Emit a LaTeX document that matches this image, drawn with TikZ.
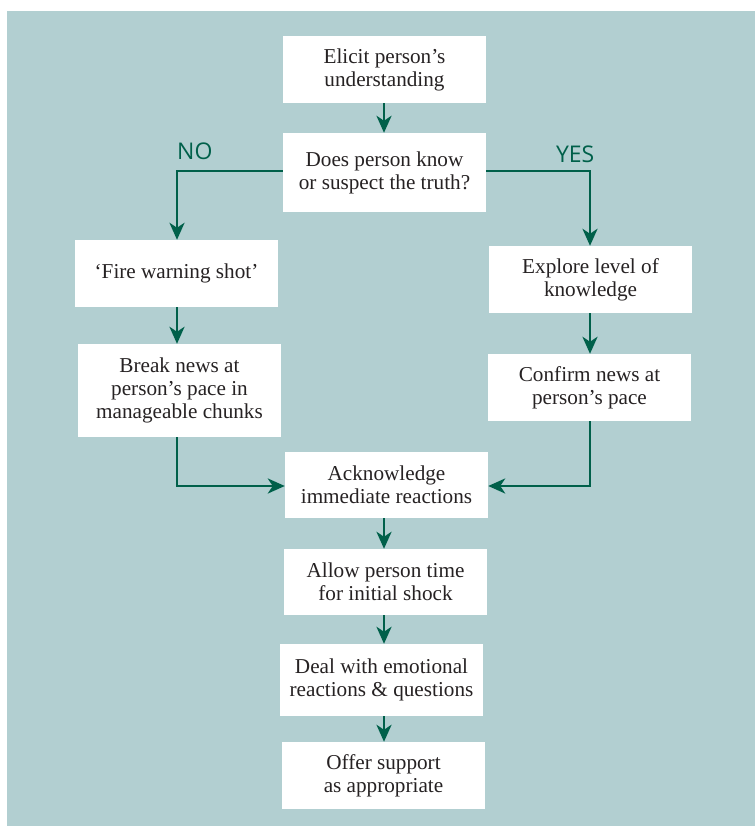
\documentclass[tikz,border=0pt]{standalone}
\usepackage{fontspec}
\setmainfont{Liberation Serif}
\newfontfamily\labelfont{Open Sans}
\usetikzlibrary{arrows.meta}
\definecolor{bgteal}{RGB}{178,207,209}
\definecolor{arrgreen}{RGB}{0,96,74}
\definecolor{txtgray}{RGB}{38,34,35}
\tikzset{
  box/.style={fill=white, draw=none, minimum width=203pt, inner sep=2pt, align=center,
    text=txtgray, font=\fontsize{21.2}{23}\selectfont},
  conn/.style={draw=arrgreen, line width=2.9pt, -{Stealth[length=17pt,width=15pt,inset=5pt]}},
  lbl/.style={text=arrgreen, inner sep=0pt, font=\labelfont\fontsize{23}{26}\selectfont}
}
\begin{document}
\begin{tikzpicture}[x=1pt,y=1pt]
\useasboundingbox (0,0) rectangle (755,-826);
\fill[bgteal] (7,-11) rectangle (755,-826);

\node[box, minimum height=67pt] (b1) at (384.5,-69.5) {Elicit person’s\\understanding};
\node[box, minimum height=79pt] (b2) at (384.5,-172.5) {Does person know\\or suspect the truth?};
\node[box, minimum height=67pt] (fire) at (176.5,-273.5) {‘Fire warning shot’};
\node[box, minimum height=93pt] (brk) at (179.5,-390.5) {Break news at\\person’s pace in\\manageable chunks};
\node[box, minimum height=67pt] (expl) at (590.5,-279.5) {Explore level of\\knowledge};
\node[box, minimum height=67pt] (conf) at (589.5,-387.5) {Confirm news at\\person’s pace};
\node[box, minimum height=66pt] (ack) at (386.5,-485) {Acknowledge\\immediate reactions};
\node[box, minimum height=66pt] (allow) at (385.5,-582) {Allow person time\\for initial shock};
\node[box, minimum height=72pt] (deal) at (381.5,-680) {Deal with emotional\\reactions \& questions};
\node[box, minimum height=67pt] (offer) at (383.5,-775.5) {Offer support\\as appropriate};

\coordinate (bl) at (177,-171);
\coordinate (br) at (590,-171);
\node[lbl, anchor=south west] (no) at (177,-160) {NO};
\node[lbl, anchor=south east] (yes) at (594.5,-163) {YES};

\draw[conn] (b1.south -| 384,0) -- (b2.north -| 384,0);
\draw[conn] (b2.west |- bl) -- (bl) -- (bl |- fire.north);
\draw[conn] (b2.east |- br) -- (br) -- (br |- expl.north);
\draw[conn] (bl |- fire.south) -- (bl |- brk.north);
\draw[conn] (br |- expl.south) -- (br |- conf.north);
\draw[conn] (bl |- brk.south) |- ([yshift=-1pt]ack.west);
\draw[conn] (br |- conf.south) |- ([yshift=-1pt]ack.east);
\draw[conn] (ack.south -| 384,0) -- (allow.north -| 384,0);
\draw[conn] (allow.south -| 384,0) -- (deal.north -| 384,0);
\draw[conn] (deal.south -| 384,0) -- (offer.north -| 384,0);
\end{tikzpicture}
\end{document}
